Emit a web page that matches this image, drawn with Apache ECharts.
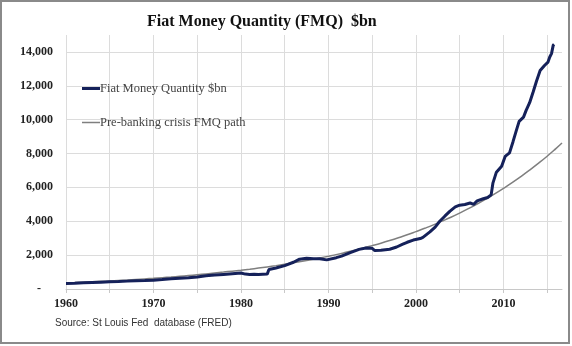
<!DOCTYPE html>
<html>
<head>
<meta charset="utf-8">
<script src="https://cdn.jsdelivr.net/npm/echarts@6/dist/echarts.min.js"></script>
<style>html,body{margin:0;padding:0;background:#fff}#c{width:572px;height:346px}</style>
</head>
<body>
<div id="c"></div>
<script>
// Fiat Money Quantity ($bn)
const fmqYears = [1960,1961,1962,1963,1964,1965,1966,1967,1968,1969,1970,1971,1972,1973,1974,1975,1976,1977,1978,1979,
  1980,1980.5,1981,1981.5,1982,1982.5,1983,1983.2,1984,1985,1986,1986.7,1987.5,1988.3,1989,1989.8,1990.9,1991.5,1992.5,1993.5,
  1994.3,1995,1995.3,1996,1997,1997.8,1998.5,1999,1999.7,2000.5,2000.8,2001.6,2002.2,2002.7,2003.3,2003.9,2004.5,2005,2005.6,2006.2,
  2006.6,2007,2007.7,2008.2,2008.6,2008.8,2009.2,2009.8,2010.2,2010.7,2011.1,2011.5,2011.8,2012.3,2012.6,2013,2013.4,2013.8,2014.2,2014.7,
  2015.1,2015.3,2015.5,2015.6,2015.7,2015.8];
const fmqValues = [330,345,365,385,405,425,440,465,490,500,515,560,610,635,660,705,780,820,860,900,
  940,880,860,875,860,870,880,1150,1240,1380,1580,1760,1810,1780,1790,1720,1850,1940,2150,2340,
  2420,2400,2270,2290,2350,2480,2650,2760,2890,2980,3050,3370,3650,3985,4300,4600,4850,4950,4990,5080,
  5000,5200,5330,5400,5560,6250,6900,7250,7830,8040,8700,9400,9900,10150,10550,11000,11630,12300,12900,13200,
  13400,13700,13900,13850,14400,14450];
// Pre-banking crisis FMQ path
const pathYears = [1960,1961,1962,1963,1964,1965,1966,1967,1968,1969,1970,1971,1972,1973,1974,1975,1976,1977,1978,1979,
  1980,1981,1982,1983,1984,1985,1986,1987,1988,1989,1990,1991,1992,1993,1994,1995,1996,1997,1998,1999,
  2000,2001,2002,2003,2004,2005,2006,2007,2008,2009,2010,2011,2012,2013,2014,2015,2016,2016.7];
const pathValues = [360,382,405,428,452,478,505,534,565,598,632,670,710,752,796,843,892,944,998,1055,
  1110,1170,1235,1305,1380,1460,1545,1635,1730,1830,1935,2045,2165,2290,2420,2560,2705,2860,3025,3200,
  3390,3585,3790,4010,4240,4485,4745,5020,5310,5615,5940,6280,6640,7020,7420,7840,8290,8620];
const xTicks = [1960,1970,1980,1990,2000,2010];
const titleText = 'Fiat Money Quantity (FMQ)  $bn';
const series1Name = 'Fiat Money Quantity $bn';
const series2Name = 'Pre-banking crisis FMQ path';
const sourceText = 'Source: St Louis Fed  database (FRED)';

function zip(a,b){return a.map((v,i)=>[v,b[i]]);}
function fmt(v){ if(v===0) return '-    '; return String(v).replace(/\B(?=(\d{3})+(?!\d))/g, ','); }

const legendText = {fontFamily:'Liberation Serif',fontSize:12.5,color:'#444',padding:[0,0,0,-5]};
const chart = echarts.init(document.getElementById('c'), null, {renderer:'canvas'});
chart.setOption({
  animation:false,
  backgroundColor:'#fff',
  title:{text:titleText,left:142,top:9,textStyle:{fontFamily:'Liberation Serif',fontWeight:'bold',fontSize:16,color:'#111'}},
  legend:[
    {left:77,top:77,icon:'rect',itemWidth:18,itemHeight:3,data:[series1Name],textStyle:legendText},
    {left:77,top:111,icon:'rect',itemWidth:18,itemHeight:1.5,data:[series2Name],textStyle:legendText}
  ],
  grid:{left:66,right:10,top:35,bottom:57},
  xAxis:{type:'value',min:1960,max:2016.7,interval:5,
    axisLine:{show:true,lineStyle:{color:'#c8c8c8',width:1}},
    axisTick:{show:true,length:4,lineStyle:{color:'#c8c8c8'}},
    axisLabel:{showMaxLabel:false,margin:9,fontFamily:'Liberation Serif',fontWeight:'bold',fontSize:12,color:'#222',
      formatter:v=>xTicks.indexOf(v)>=0?String(v):''},
    splitLine:{show:true,showMaxLine:false,lineStyle:{color:'#dcdcdc',width:1}}},
  yAxis:{type:'value',min:0,max:15000,interval:2000,
    axisLine:{show:false},axisTick:{show:false},
    axisLabel:{showMaxLabel:false,margin:13,fontFamily:'Liberation Serif',fontWeight:'bold',fontSize:12,color:'#222',formatter:fmt},
    splitLine:{show:true,showMaxLine:false,lineStyle:{color:'#dcdcdc',width:1}}},
  series:[
    {name:series1Name,type:'line',data:zip(fmqYears,fmqValues),symbol:'none',z:3,
      lineStyle:{color:'#15215a',width:3},itemStyle:{color:'#15215a'}},
    {name:series2Name,type:'line',data:zip(pathYears,pathValues),symbol:'none',smooth:true,z:2,
      lineStyle:{color:'#7f7f7f',width:1.5},itemStyle:{color:'#7f7f7f'}}
  ],
  graphic:[
    {type:'text',left:55,top:318,style:{text:sourceText,fontFamily:'Liberation Sans',fontSize:10,fill:'#333'}},
    {type:'rect',shape:{x:1,y:1,width:568,height:342},style:{fill:'none',stroke:'#8a8a8a',lineWidth:2},silent:true}
  ]
});
</script>
</body>
</html>
